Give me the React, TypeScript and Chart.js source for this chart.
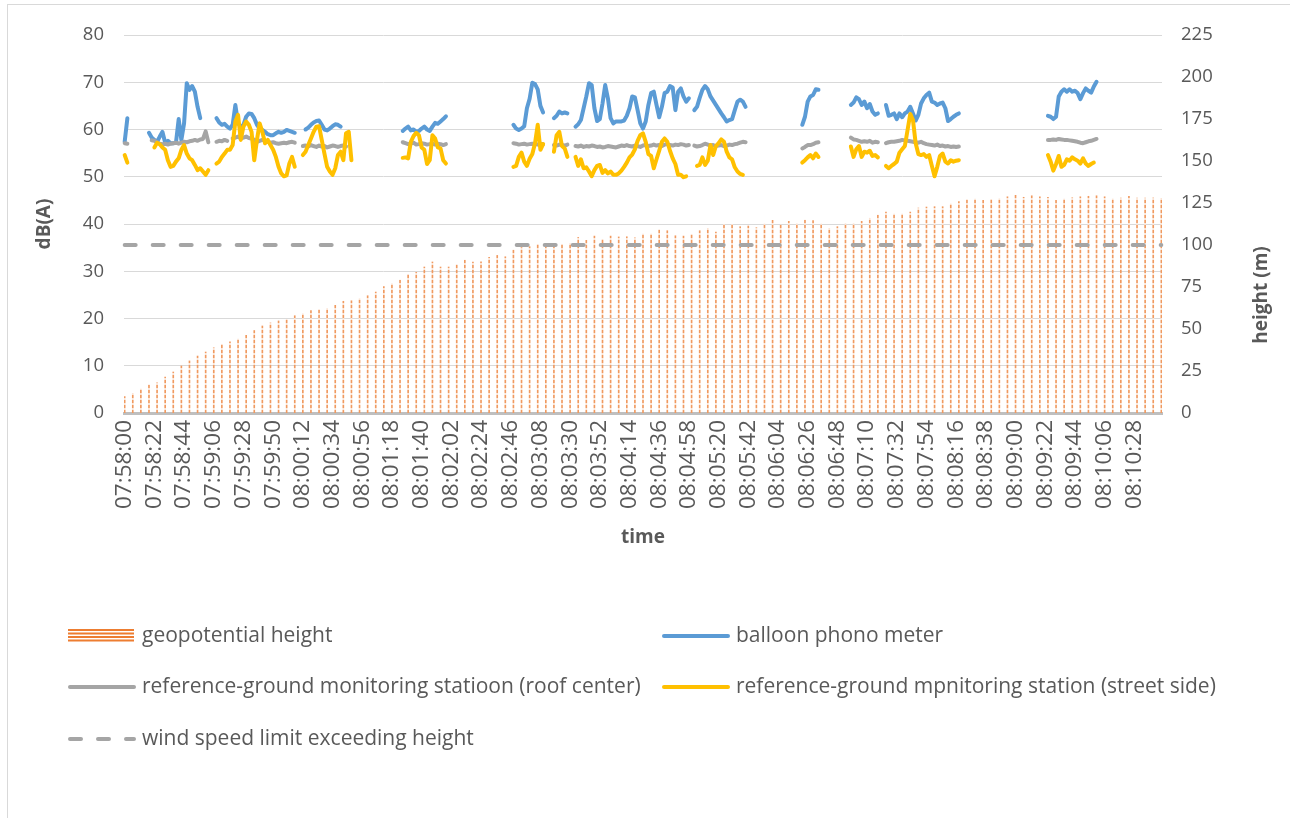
import React, { useEffect, useRef } from "react";
import { Chart, registerables } from "chart.js";

Chart.register(...registerables);

// ---------- data ----------
const START_CLOCK = "07:58:00";
const CATEGORY_COUNT = 769; // one category per second: 07:58:00 … 08:10:48
const TICK_EVERY = 22; // a time label every 22 s

// geopotential height (m), one reading every 6 s from 07:58:00
const HEIGHT_STEP = 6;
const HEIGHT_M = [
  9.7, 11.7, 14.3, 16.7, 18.0, 21.4, 24.4, 28.0, 31.0, 33.9, 36.3, 38.8, 40.9, 42.4, 44.0, 46.3, 49.1,
  51.8, 53.6, 54.8, 55.7, 57.9, 59.1, 60.9, 61.5, 62.1, 64.1, 66.5, 66.8, 68.0, 69.8, 72.0, 75.2, 76.9,
  79.1, 82.5, 83.7, 86.9, 89.9, 86.9, 86.9, 88.3, 91.0, 89.9, 90.0, 92.6, 93.8, 93.0, 97.0, 98.5, 99.0,
  100.4, 100.0, 100.4, 100.4, 100.8, 104.5, 102.8, 105.3, 103.4, 105.3, 104.8, 104.9, 104.2, 106.5, 106.5,
  109.1, 108.5, 105.5, 105.3, 106.3, 108.5, 109.9, 107.7, 112.3, 112.3, 110.9, 111.3, 110.3, 112.5, 114.7,
  111.9, 114.1, 112.6, 114.9,
  114.5, 112.5, 109.9, 110.9, 112.7, 112.7, 114.1, 115.9, 117.8, 119.6, 118.4, 118.4, 119.6, 122.0, 122.6,
  122.8, 122.8, 124.4, 125.8, 127.0, 127.4, 126.6, 127.2, 127.5, 128.7, 129.6, 128.4, 129.3, 128.7, 128.4,
  126.6, 127.4, 128.1, 128.7, 129.0, 129.3, 128.7, 127.4, 128.0, 129.0, 128.0, 128.0, 128.0, 127.8,
];

// wind speed limit exceeding height (m)
const WIND_LIMIT_M = 100;

// noise levels dB(A): [segment start time, readings every 2 s]
const LINE_STEP = 2;

const BALLOON_DB: [string, number[]][] = [
  ["07:58:00", [57.4, 62.4]],
  ["07:58:18", [59.3, 58.3, 57.8, 57.4, 58.5, 59.5, 57.2, 57.6, 57.1, 57.1, 57.2, 62.2, 57.8, 61.3, 69.8, 68.4, 69.2, 68.0, 64.8, 62.4]],
  ["07:59:08", [62.4, 61.5, 61.0, 61.2, 60.6, 60.2, 61.0, 65.2, 61.3, 60.6, 61.0, 62.7, 63.4, 63.3, 62.4, 61.0, 60.2, 59.9, 59.5, 59.0, 58.8, 58.8, 59.2, 59.5, 59.3, 59.5, 59.9, 59.7, 59.5, 59.3]],
  ["08:00:14", [60.0, 60.4, 61.0, 61.5, 61.8, 61.9, 61.0, 60.0, 59.8, 60.2, 60.7, 61.1, 61.0, 60.6]],
  ["08:01:26", [59.7, 60.2, 60.6, 59.8, 60.0, 59.5, 59.7, 60.2, 60.6, 60.0, 59.7, 60.6, 61.4, 61.2, 61.7, 62.2, 62.8]],
  ["08:02:48", [61.0, 60.2, 59.9, 60.2, 60.7, 64.5, 66.5, 69.9, 69.6, 68.5, 65.0, 63.6]],
  ["08:03:18", [62.4, 62.9, 63.8, 63.4, 63.6, 63.4]],
  ["08:03:34", [60.6, 61.1, 62.0, 64.5, 67.0, 69.8, 69.4, 64.5, 61.8, 62.2, 65.5, 69.4, 66.6, 62.4, 61.3, 61.7, 61.7, 61.7, 61.9, 62.9, 64.5, 67.0, 66.8, 64.1, 61.3, 60.2, 61.7, 65.2, 67.7, 68.0, 65.2, 62.6, 64.8, 67.7, 68.0, 69.2, 68.9, 64.1, 68.0, 68.7, 67.0, 65.9, 66.6]],
  ["08:05:02", [64.1, 64.8, 66.7, 68.4, 69.2, 68.5, 67.0, 66.1, 65.2, 64.3, 63.4, 62.6, 61.7, 62.0, 62.2, 64.1, 65.9, 66.3, 65.9, 64.8]],
  ["08:06:22", [61.0, 62.7, 65.9, 67.0, 67.3, 68.5, 68.4]],
  ["08:06:58", [65.2, 65.7, 66.8, 66.4, 65.2, 65.9, 64.5, 65.4, 63.8, 63.1, 63.4]],
  ["08:07:24", [65.2, 62.9, 63.1, 63.4, 62.2, 63.4, 62.6, 63.4, 63.8, 64.8, 63.4, 61.9, 63.1, 65.5, 66.6, 67.3, 67.8, 65.9, 65.7, 65.2, 65.5, 65.7, 64.5, 61.8, 62.2, 62.7, 63.1, 63.4]],
  ["08:09:24", [62.9, 62.7, 62.2, 62.7, 67.0, 68.0, 68.5, 68.0, 68.5, 68.0, 68.2, 67.7, 66.4, 67.7, 68.7, 68.2, 67.8, 69.1, 70.1]],
];

const ROOF_DB: [string, number[]][] = [
  ["07:58:00", [57.1, 57.0]],
  ["07:58:20", [57.7, 57.6, 57.3, 57.0, 56.9, 57.0, 56.8, 57.0, 57.1, 57.2, 57.0, 57.2, 57.4, 57.3, 57.5, 57.6, 57.8, 57.6, 57.9, 58.0, 59.6, 57.3]],
  ["07:59:08", [57.4, 57.6, 57.5, 57.8, 57.6]],
  ["07:59:20", [58.1, 58.3, 58.5, 58.1, 58.3, 58.5, 58.2, 58.1, 57.8, 57.4, 57.6, 57.8, 57.6, 57.4, 57.2, 57.3, 57.1, 57.0, 57.1, 57.2, 57.1, 57.3, 57.4, 57.2]],
  ["08:00:12", [56.5, 56.6, 56.4, 56.7, 56.5, 56.3, 56.6, 56.4, 56.5, 56.2, 56.4, 56.6, 56.5, 56.3, 56.5, 56.6, 56.4]],
  ["08:01:26", [57.3, 57.1, 56.9, 57.0, 57.2, 56.8, 56.9, 57.1, 57.0, 56.8, 56.9, 57.0, 56.8, 57.0, 56.9, 56.7, 56.9]],
  ["08:02:48", [57.1, 57.0, 56.8, 56.9, 57.0, 56.8, 56.9, 57.0, 56.9, 56.8, 57.0, 56.9]],
  ["08:03:18", [56.7, 56.6, 56.8, 56.7, 56.6, 56.8]],
  ["08:03:34", [56.5, 56.4, 56.6, 56.3, 56.5, 56.4, 56.6, 56.5, 56.3, 56.4, 56.2, 56.3, 56.5, 56.4, 56.3, 56.2, 56.4, 56.6, 56.5, 56.7, 56.5, 56.4, 56.6, 56.5, 56.3, 56.6, 56.7, 56.5, 56.6, 56.8, 56.6, 56.7, 56.5, 56.8, 56.9, 56.7, 56.6, 56.8, 56.7, 56.9, 56.8, 56.6, 56.7]],
  ["08:05:02", [56.6, 56.4, 56.5, 56.7, 57.0, 56.8, 56.6, 56.7, 56.5, 56.6, 56.7, 56.5, 56.6, 56.8, 56.7, 56.9, 57.0, 57.2, 57.4, 57.3]],
  ["08:06:22", [56.0, 56.3, 56.7, 56.7, 56.9, 57.2, 57.3]],
  ["08:06:58", [58.3, 57.9, 57.8, 57.6, 57.4, 57.5, 57.4, 57.6, 57.2, 57.4, 57.3]],
  ["08:07:24", [57.1, 57.3, 57.4, 57.4, 57.5, 57.6, 57.8, 57.7, 57.6, 57.5, 57.4, 57.3, 57.2, 57.4, 57.1, 56.9, 56.8, 56.7, 56.6, 56.8, 56.5, 56.6, 56.4, 56.5, 56.3, 56.4, 56.3, 56.4]],
  ["08:09:24", [57.8, 57.8, 57.9, 57.8, 58.0, 57.9, 57.8, 57.8, 57.7, 57.6, 57.5, 57.4, 57.2, 57.1, 57.3, 57.5, 57.6, 57.8, 58.0]],
];

const STREET_DB: [string, number[]][] = [
  ["07:58:00", [54.6, 53.0]],
  ["07:58:22", [56.2, 57.2, 56.9, 56.2, 55.7, 53.5, 52.1, 52.3, 53.2, 53.9, 55.7, 56.7, 54.9, 53.9, 53.5, 52.5, 51.4, 51.8, 51.1, 50.4, 51.4]],
  ["07:59:08", [52.8, 53.2, 54.2, 54.9, 55.7, 55.7, 56.7, 61.7, 63.1, 57.8, 60.6, 61.7, 61.0, 59.5, 53.5, 57.8, 61.3, 59.5, 57.1, 57.8, 56.7, 55.7, 54.2, 52.1, 50.7, 50.1, 50.3, 52.8, 54.2, 52.1]],
  ["08:00:12", [54.6, 55.3, 56.7, 58.1, 59.5, 60.6, 60.7, 57.8, 54.9, 52.1, 51.1, 50.4, 51.8, 54.6, 55.3, 53.5, 59.2, 59.5, 53.5]],
  ["08:01:26", [54.0, 54.1, 53.9, 57.4, 58.6, 59.3, 58.8, 56.2, 55.7, 52.7, 53.5, 58.8, 58.1, 56.2, 56.0, 53.5, 52.8]],
  ["08:02:48", [52.1, 52.3, 54.2, 55.1, 53.2, 52.3, 53.8, 54.8, 57.1, 61.0, 55.7, 56.9]],
  ["08:03:18", [55.3, 58.8, 59.5, 56.5, 56.0, 54.2]],
  ["08:03:34", [54.2, 52.3, 53.7, 51.8, 52.0, 51.1, 50.1, 51.4, 52.3, 52.5, 50.8, 51.4, 50.7, 51.1, 50.4, 50.4, 50.7, 51.3, 52.1, 53.0, 54.1, 54.7, 55.8, 57.6, 58.8, 59.2, 57.4, 54.8, 54.4, 51.8, 53.7, 55.5, 57.4, 58.1, 57.4, 55.5, 53.9, 52.7, 50.4, 50.4, 49.9, 50.1]],
  ["08:05:04", [52.3, 52.5, 54.1, 52.5, 53.4, 56.7, 54.6, 56.5, 57.1, 57.9, 57.4, 55.3, 54.1, 53.7, 52.0, 51.1, 50.6, 50.4]],
  ["08:06:22", [53.0, 53.5, 54.1, 54.6, 53.9, 54.9, 54.2]],
  ["08:06:58", [56.4, 54.2, 55.8, 56.5, 54.2, 55.3, 55.1, 55.5, 54.4, 54.6, 54.1]],
  ["08:07:24", [52.3, 51.8, 52.3, 52.7, 53.2, 55.1, 55.8, 56.5, 59.9, 63.3, 62.0, 57.1, 54.8, 54.6, 54.8, 54.2, 54.6, 52.3, 50.1, 52.1, 54.4, 54.9, 53.2, 52.8, 53.5, 53.2, 53.4, 53.5]],
  ["08:09:24", [54.6, 53.2, 51.3, 52.7, 54.4, 52.1, 52.5, 53.7, 53.4, 54.1, 53.7, 53.4, 52.8, 53.9, 52.8, 52.3, 52.7, 53.0]],
];

// ---------- helpers ----------
const toSec = (clock: string) => {
  const [h, m, s] = clock.split(":").map(Number);
  return h * 3600 + m * 60 + s;
};
const pad = (n: number) => String(n).padStart(2, "0");
const toClock = (sec: number) =>
  `${pad(Math.floor(sec / 3600))}:${pad(Math.floor((sec % 3600) / 60))}:${pad(sec % 60)}`;

const START_SEC = toSec(START_CLOCK);
const CATEGORIES = Array.from({ length: CATEGORY_COUNT }, (_, i) => toClock(START_SEC + i));

const segmentsToPoints = (segs: [string, number[]][]) =>
  segs.flatMap(([t, vals]) => {
    const s0 = toSec(t);
    return vals.map((v, j) => ({ x: toClock(s0 + j * LINE_STEP), y: v }));
  });

const FONT = '"Open Sans", sans-serif';
const TEXT = "#595959";
const BLUE = "#5B9BD5";
const GRAY = "#A5A5A5";
const YELLOW = "#FFC000";
const ORANGE = "#ED7D31";
const PALE_ORANGE = "#FBE3D3";

function makeStripePattern(): CanvasPattern | string {
  const tile = document.createElement("canvas");
  tile.width = 4;
  tile.height = 5;
  const c = tile.getContext("2d");
  if (!c) return ORANGE;
  c.fillStyle = PALE_ORANGE;
  c.fillRect(0, 0, 4, 5);
  c.fillStyle = "#F09A60";
  c.fillRect(0, 0, 4, 3);
  const ctx = document.createElement("canvas").getContext("2d");
  return (ctx && ctx.createPattern(tile, "repeat")) || ORANGE;
}

export default function App() {
  const ref = useRef<HTMLCanvasElement | null>(null);

  useEffect(() => {
    const canvas = ref.current;
    if (!canvas) return;
    const stripes = makeStripePattern();

    const decorPlugin = {
      id: "decor",
      afterDraw(chart: any) {
        const ctx: CanvasRenderingContext2D = chart.ctx;
        ctx.save();
        // outer chart border
        ctx.strokeStyle = "#D9D9D9";
        ctx.lineWidth = 1;
        ctx.strokeRect(7.5, 4.5, 1300, 830);

        // axis titles
        ctx.fillStyle = TEXT;
        ctx.font = `bold 19px ${FONT}`;
        ctx.textAlign = "center";
        ctx.textBaseline = "middle";
        ctx.save();
        ctx.translate(45, 224);
        ctx.rotate(-Math.PI / 2);
        ctx.fillText("dB(A)", 0, 0);
        ctx.restore();
        ctx.save();
        ctx.translate(1262, 295);
        ctx.rotate(-Math.PI / 2);
        ctx.fillText("height (m)", 0, 0);
        ctx.restore();
        ctx.fillText("time", 643, 538);

        // legend
        const items = chart.data.datasets;
        const slots = [
          { ds: 0, x: 68, y: 636 },
          { ds: 1, x: 662, y: 636 },
          { ds: 2, x: 68, y: 687 },
          { ds: 3, x: 662, y: 687 },
          { ds: 4, x: 68, y: 739 },
        ];
        ctx.font = `21px ${FONT}`;
        ctx.textAlign = "left";
        slots.forEach(({ ds, x, y }) => {
          const d = items[ds];
          if (d.type === "bar") {
            ctx.fillStyle = ORANGE;
            for (let yy = y - 7; yy < y + 7; yy += 3.5) ctx.fillRect(x, yy, 66, 2);
          } else {
            ctx.strokeStyle = d.borderColor;
            ctx.lineWidth = 4;
            ctx.lineCap = "round";
            ctx.setLineDash(d.borderDash ? [11, 17] : []);
            ctx.beginPath();
            ctx.moveTo(x + 2, y);
            ctx.lineTo(x + 66, y);
            ctx.stroke();
            ctx.setLineDash([]);
          }
          ctx.fillStyle = TEXT;
          ctx.fillText(d.label, x + 74, y);
        });
        ctx.restore();
      },
    };

    const lineCommon = {
      type: "line" as const,
      yAxisID: "y",
      borderWidth: 4,
      pointRadius: 0,
      pointHoverRadius: 0,
      spanGaps: 2.5,
      borderCapStyle: "round" as const,
      borderJoinStyle: "round" as const,
      tension: 0,
    };

    const chart = new Chart(canvas, {
      type: "bar",
      data: {
        labels: CATEGORIES,
        datasets: [
          {
            type: "bar",
            label: "geopotential height",
            data: HEIGHT_M.map((h, k) => ({ x: CATEGORIES[k * HEIGHT_STEP], y: h })),
            yAxisID: "y1",
            backgroundColor: stripes as any,
            barThickness: 1,
            order: 5,
          } as any,
          { ...lineCommon, label: "balloon phono meter", data: segmentsToPoints(BALLOON_DB), borderColor: BLUE, order: 4 } as any,
          { ...lineCommon, label: "reference-ground monitoring statioon (roof center)", data: segmentsToPoints(ROOF_DB), borderColor: GRAY, order: 3 } as any,
          { ...lineCommon, label: "reference-ground mpnitoring station (street side)", data: segmentsToPoints(STREET_DB), borderColor: YELLOW, order: 2 } as any,
          {
            type: "line",
            label: "wind speed limit exceeding height",
            data: [
              { x: CATEGORIES[0], y: WIND_LIMIT_M },
              { x: CATEGORIES[CATEGORY_COUNT - 1], y: WIND_LIMIT_M },
            ],
            yAxisID: "y1",
            borderColor: GRAY,
            borderWidth: 4,
            borderDash: [11, 17],
            borderCapStyle: "round",
            pointRadius: 0,
            order: 1,
          } as any,
        ],
      },
      options: {
        responsive: false,
        animation: false,
        events: [],
        layout: { padding: { top: 35, left: 0, right: 0, bottom: 0 } },
        plugins: { legend: { display: false }, tooltip: { enabled: false } },
        scales: {
          x: {
            type: "category",
            offset: true,
            grid: { display: false, drawTicks: false },
            border: { display: true, color: "#BFBFBF", width: 3 },
            ticks: {
              autoSkip: false,
              maxRotation: 90,
              minRotation: 90,
              padding: 7,
              color: TEXT,
              font: { family: FONT, size: 22.5 },
            },
            afterBuildTicks: (s: any) => {
              s.ticks = s.ticks.filter((t: any) => t.value % TICK_EVERY === 0);
            },
            afterFit: (s: any) => {
              s.height = 818 - 413;
            },
          },
          y: {
            position: "left",
            min: 0,
            max: 80,
            ticks: { stepSize: 10, padding: 20, color: TEXT, font: { family: FONT, size: 18.5 } },
            grid: { color: "#D9D9D9", lineWidth: 1, drawTicks: false },
            border: { display: false },
            afterFit: (s: any) => {
              s.width = 124;
            },
          },
          y1: {
            position: "right",
            min: 0,
            max: 225,
            ticks: { stepSize: 25, padding: 19, color: TEXT, font: { family: FONT, size: 18.5 } },
            grid: { display: false, drawTicks: false },
            border: { display: false },
            afterFit: (s: any) => {
              s.width = 1290 - 1162;
            },
          },
        },
      } as any,
      plugins: [decorPlugin],
    });

    return () => chart.destroy();
  }, []);

  return (
    <div style={{ position: "absolute", left: 0, top: 0, width: 1290, height: 818, background: "#fff" }}>
      <canvas ref={ref} width={1290} height={818} style={{ display: "block", width: 1290, height: 818 }} />
    </div>
  );
}
